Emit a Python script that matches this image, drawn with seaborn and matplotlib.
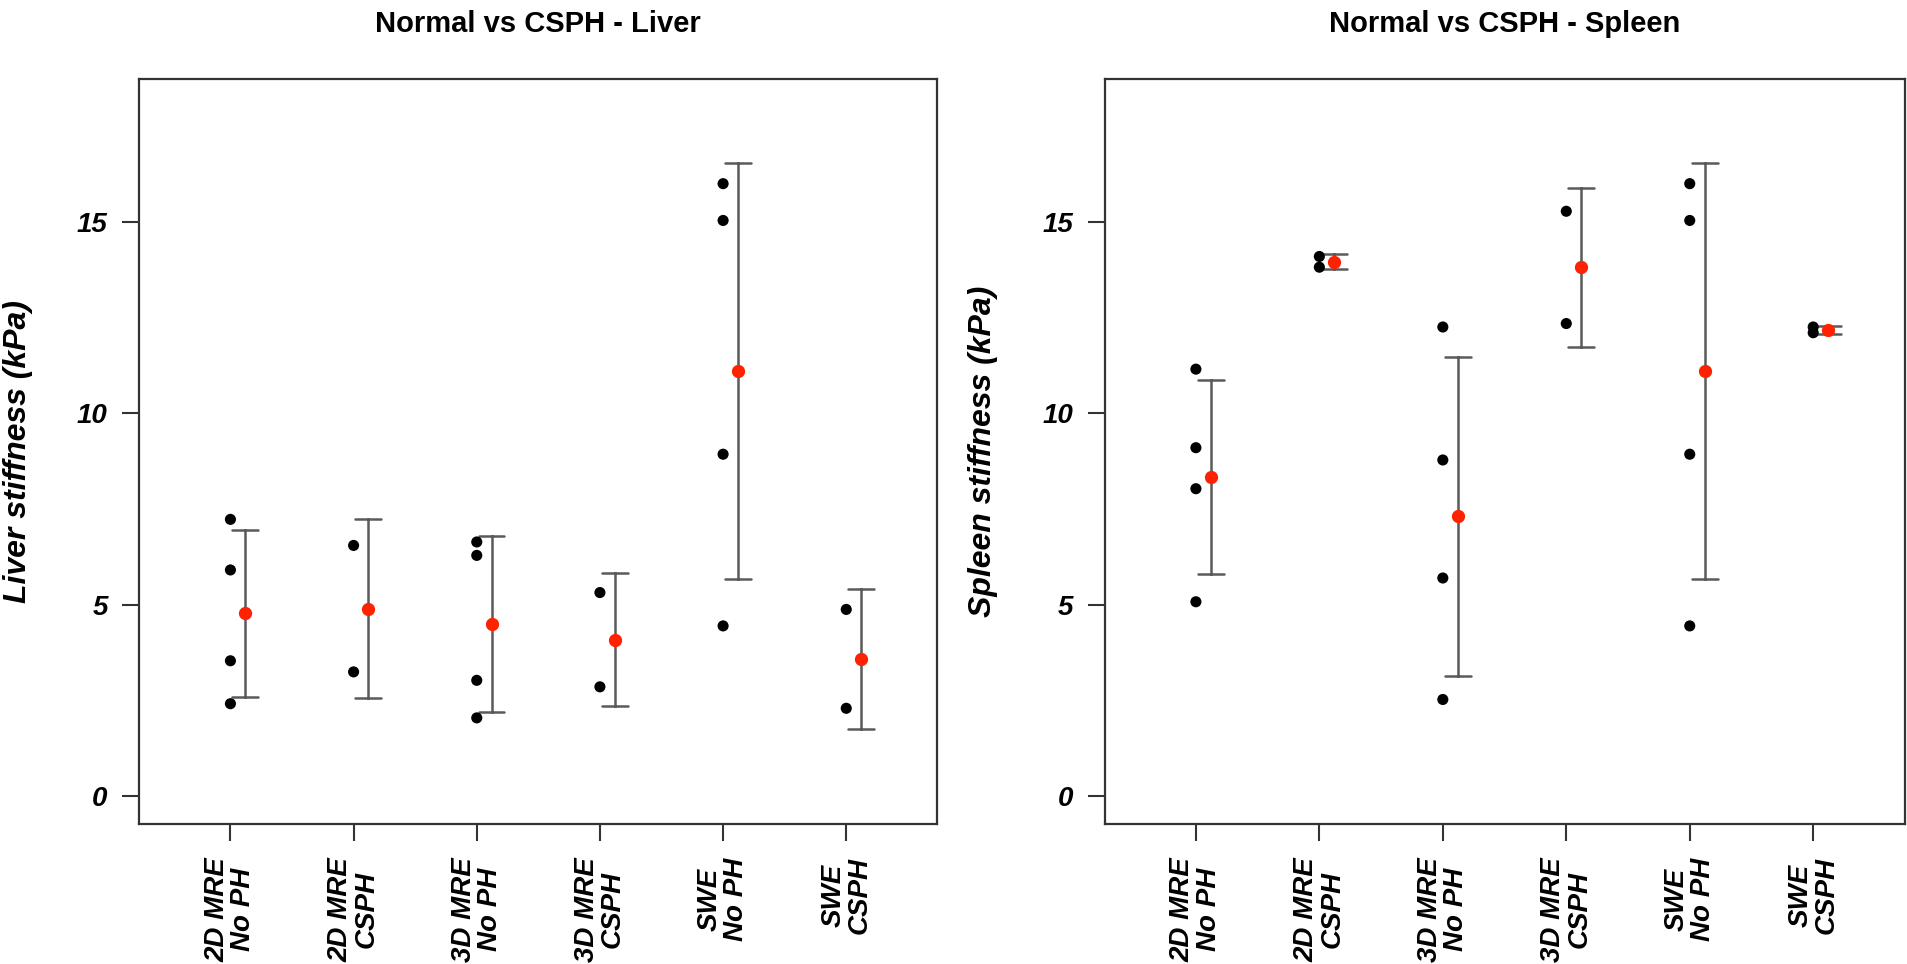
import matplotlib
matplotlib.use("Agg")
import matplotlib.pyplot as plt
import numpy as np
import pandas as pd
import seaborn as sns

categories = ["2D MRE\nNo PH", "2D MRE\nCSPH", "3D MRE\nNo PH",
              "3D MRE\nCSPH", "SWE\nNo PH", "SWE\nCSPH"]

# liver stiffness (kPa), one list per group
liver_2d_noph = [7.23, 5.91, 3.54, 2.42]
liver_2d_csph = [6.55, 3.25]
liver_3d_noph = [6.64, 6.29, 3.03, 2.05]
liver_3d_csph = [5.32, 2.86]
liver_swe_noph = [15.99, 15.03, 8.93, 4.45]
liver_swe_csph = [4.88, 2.30]

# spleen stiffness (kPa)
spleen_2d_noph = [11.15, 9.10, 8.03, 5.08]
spleen_2d_csph = [14.09, 13.81]
spleen_3d_noph = [12.25, 8.78, 5.70, 2.53]
spleen_3d_csph = [15.27, 12.34]
spleen_swe_noph = [15.99, 15.03, 8.93, 4.45]
spleen_swe_csph = [12.25, 12.10]

yticks = [0, 5, 10, 15]


def make_df(groups):
    rows = []
    for i, vals in enumerate(groups):
        for v in vals:
            rows.append({"pos": i, "stiffness": v})
    return pd.DataFrame(rows)


def draw_panel(ax, df, title, ylabel):
    # raw values
    sns.scatterplot(data=df, x="pos", y="stiffness", color="black", s=64,
                    edgecolor="none", legend=False, ax=ax, zorder=3)
    # mean +/- sd, shifted a bit right of the raw points
    sns.pointplot(data=df.assign(pos=df["pos"] + 0.12), x="pos", y="stiffness",
                  native_scale=True, errorbar="sd", capsize=0.21,
                  linestyle="none", color="#ff2200", marker="o", markersize=7.5,
                  err_kws={"color": "#5a5a5a", "linewidth": 1.8, "zorder": 2},
                  zorder=4, ax=ax)

    ax.set_xlim(-0.74, 5.74)
    ax.set_ylim(-0.72, 18.72)
    ax.set_xticks(range(len(categories)))
    ax.set_xticklabels(categories, rotation=90, ha="center", va="top",
                       multialignment="center", linespacing=1.0)
    ax.set_yticks(yticks)
    ax.set_xlabel("")
    ax.set_ylabel(ylabel, fontsize=23, fontweight="bold", fontstyle="italic",
                  color="black")
    ax.yaxis.set_label_coords(-0.133, 0.5)
    ax.set_title(title, fontsize=21, fontweight="bold", pad=34, color="black")

    ax.tick_params(length=12, width=1.5, color="#333333", labelsize=20,
                   labelcolor="black", bottom=True, left=True)
    ax.tick_params(axis="y", pad=10.8)
    ax.tick_params(axis="x", pad=12)
    for lab in ax.get_xticklabels() + ax.get_yticklabels():
        lab.set_fontweight("bold")
        lab.set_fontstyle("italic")
    for sp in ax.spines.values():
        sp.set_visible(True)
        sp.set_color("#333333")
        sp.set_linewidth(1.6)


sns.set_style("ticks")
plt.rcParams["font.family"] = ["Liberation Sans", "DejaVu Sans"]
plt.rcParams["text.color"] = "black"

liver_df = make_df([liver_2d_noph, liver_2d_csph, liver_3d_noph,
                    liver_3d_csph, liver_swe_noph, liver_swe_csph])
spleen_df = make_df([spleen_2d_noph, spleen_2d_csph, spleen_3d_noph,
                     spleen_3d_csph, spleen_swe_noph, spleen_swe_csph])

fig = plt.figure(figsize=(19.08, 9.64), dpi=100)
ax1 = fig.add_axes([0.073, 0.1452, 0.4183, 0.7728])
ax2 = fig.add_axes([0.5789, 0.1452, 0.4193, 0.7728])

draw_panel(ax1, liver_df, "Normal vs CSPH - Liver", "Liver stiffness (kPa)")
draw_panel(ax2, spleen_df, "Normal vs CSPH - Spleen", "Spleen stiffness (kPa)")

fig.savefig("out.png", dpi=100)
